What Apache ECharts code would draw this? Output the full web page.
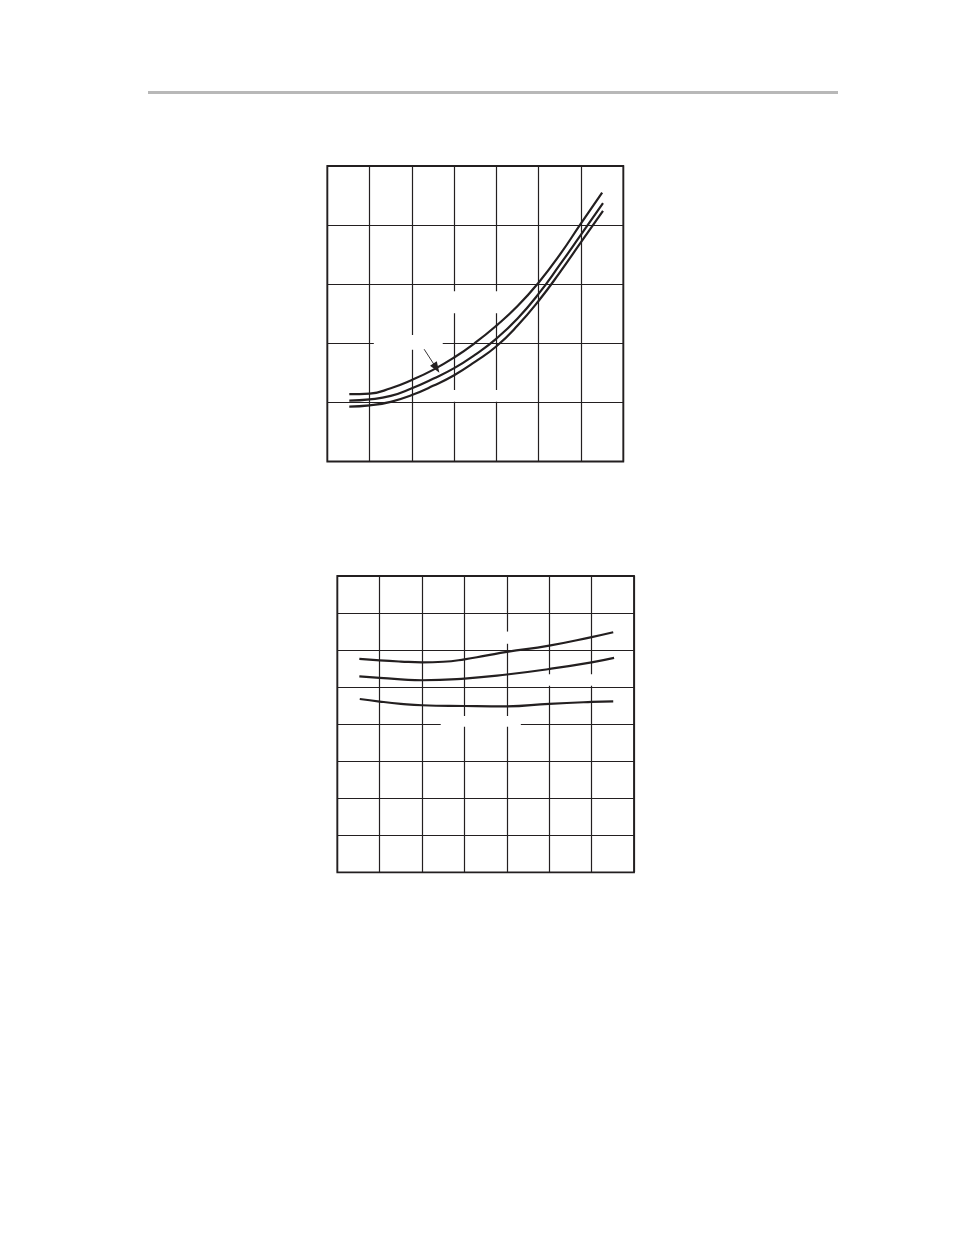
<!DOCTYPE html>
<html>
<head>
<meta charset="utf-8">
<script src="https://cdn.jsdelivr.net/npm/echarts@6/dist/echarts.min.js"></script>
<style>
html,body{margin:0;padding:0;background:#fff;}
#c{width:954px;height:1235px;}
</style>
</head>
<body>
<div id="c"></div>
<script>
// ---- Top chart data (x in grid units 0..7, y in grid units 0..5) ----
var topUpper = [[0.52,1.14],[1.0,1.15],[1.5,1.24],[2.0,1.38],[2.5,1.55],[3.0,1.76],[3.5,2.01],[4.0,2.30],[4.5,2.63],[5.0,3.03],[5.5,3.50],[6.0,4.03],[6.5,4.55]];
var topMiddle = [[0.52,1.03],[1.0,1.05],[1.5,1.11],[2.0,1.24],[2.5,1.40],[3.0,1.58],[3.5,1.81],[4.0,2.08],[4.5,2.42],[5.0,2.84],[5.5,3.33],[6.0,3.84],[6.52,4.37]];
var topLower = [[0.52,0.93],[1.0,0.95],[1.5,1.01],[2.0,1.125],[2.5,1.28],[3.0,1.46],[3.5,1.69],[4.0,1.95],[4.5,2.30],[5.0,2.72],[5.5,3.20],[6.0,3.71],[6.52,4.24]];
var topArrow = [[2.29,1.90],[2.58,1.58]];
// masks where label boxes interrupted the grid (data units)
var topMasks = [[[1.10,1.89],[2.73,2.14]],[[2.78,2.51],[4.20,2.88]],[[2.78,1.01],[4.20,1.21]]];

// ---- Bottom chart data (x in grid units 0..7, y in grid units 0..8) ----
var botA = [[0.52,5.76],[1.0,5.72],[1.5,5.69],[2.0,5.67],[2.5,5.685],[3.0,5.75],[3.5,5.85],[4.0,5.95],[5.0,6.12],[6.0,6.35],[6.51,6.48]];
var botB = [[0.52,5.29],[1.0,5.25],[1.5,5.21],[2.0,5.185],[3.0,5.23],[4.0,5.34],[5.0,5.49],[6.0,5.67],[6.53,5.79]];
var botC = [[0.53,4.68],[1.0,4.61],[1.5,4.55],[2.0,4.51],[3.0,4.49],[4.0,4.48],[5.0,4.55],[6.0,4.60],[6.51,4.615]];
var botMasks = [[[2.44,3.93],[4.33,4.22]],[[3.72,6.17],[4.31,6.50]],[[4.83,5.04],[6.67,5.35]]];

var topXTicks = [0,1,2,3,4,5,6,7];
var topYTicks = [0,1,2,3,4,5];
var botXTicks = [0,1,2,3,4,5,6,7];
var botYTicks = [0,1,2,3,4,5,6,7,8];

var INK = '#231f20';

function axisX(idx, ticks){
  return {type:'value', gridIndex:idx, min:ticks[0], max:ticks[ticks.length-1], interval:1,
    axisLine:{show:false}, axisTick:{show:false}, axisLabel:{show:false},
    splitLine:{show:true, lineStyle:{color:INK, width:1.2}}};
}
function axisY(idx, ticks){
  return {type:'value', gridIndex:idx, min:ticks[0], max:ticks[ticks.length-1], interval:1,
    axisLine:{show:false}, axisTick:{show:false}, axisLabel:{show:false},
    splitLine:{show:true, lineStyle:{color:INK, width:1.2}}};
}
function curve(idx, data, extra){
  var s = {type:'line', xAxisIndex:idx, yAxisIndex:idx, data:data, smooth:0.5, symbol:'none',
    lineStyle:{color:INK, width:2.2}, z:5, silent:true};
  if (extra) for (var k in extra) s[k]=extra[k];
  return s;
}
function maskArea(masks){
  return {silent:true, itemStyle:{color:'#ffffff'}, label:{show:false},
    data: masks.map(function(m){return [{coord:m[0]},{coord:m[1]}];})};
}

var chart = echarts.init(document.getElementById('c'), null, {renderer:'canvas'});
chart.setOption({
  backgroundColor:'#ffffff',
  animation:false,
  graphic:[{type:'rect', shape:{x:148, y:91, width:690, height:3}, style:{fill:'#b8b8b8'}}],
  grid:[
    {left:327.3, top:166, width:296, height:295.5, show:true, borderColor:INK, borderWidth:1.8, backgroundColor:'transparent'},
    {left:337.3, top:576, width:296.7, height:296.3, show:true, borderColor:INK, borderWidth:1.8, backgroundColor:'transparent'}
  ],
  xAxis:[axisX(0, topXTicks), axisX(1, botXTicks)],
  yAxis:[axisY(0, topYTicks), axisY(1, botYTicks)],
  series:[
    {type:'line', xAxisIndex:0, yAxisIndex:0, data:[], z:3, markArea:maskArea(topMasks)},
    {type:'line', xAxisIndex:1, yAxisIndex:1, data:[], z:3, markArea:maskArea(botMasks)},
    curve(0, topUpper, {markLine:{silent:true, symbol:['none','triangle'], symbolSize:[8,11],
      lineStyle:{color:INK, width:0.9, type:'solid'}, label:{show:false},
      data:[[{coord:topArrow[0]},{coord:topArrow[1]}]]}}),
    curve(0, topMiddle),
    curve(0, topLower),
    curve(1, botA),
    curve(1, botB),
    curve(1, botC)
  ]
});
</script>
</body>
</html>
